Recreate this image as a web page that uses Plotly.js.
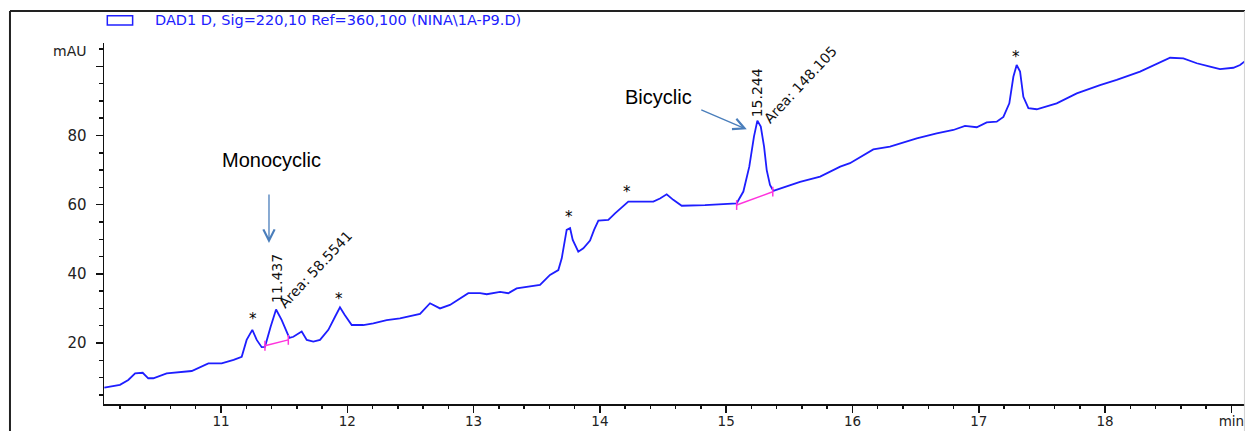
<!DOCTYPE html>
<html>
<head>
<meta charset="utf-8">
<script src="https://cdn.plot.ly/plotly-3.0.1.min.js"></script>
<style>
  html, body { margin: 0; padding: 0; background: #ffffff; }
  #chart { width: 1246px; height: 431px; }
</style>
</head>
<body>
<div id="chart"></div>
<script>
// ---- data (retention time in min, signal in mAU) ----
const timeMin = [10.076, 10.20, 10.266, 10.32, 10.38, 10.424, 10.464, 10.57, 10.768, 10.834, 10.90, 11.005, 11.10, 11.164, 11.203, 11.248, 11.283, 11.322, 11.348, 11.393, 11.436, 11.48, 11.541, 11.573, 11.639, 11.679, 11.731, 11.784, 11.85, 11.903, 11.942, 11.98, 12.035, 12.127, 12.206, 12.312, 12.417, 12.576, 12.655, 12.734, 12.813, 12.958, 13.051, 13.104, 13.21, 13.275, 13.341, 13.526, 13.605, 13.671, 13.698, 13.737, 13.764, 13.785, 13.829, 13.869, 13.922, 13.954, 13.988, 14.067, 14.12, 14.225, 14.423, 14.476, 14.529, 14.581, 14.648, 14.832, 14.951, 15.083, 15.136, 15.183, 15.22, 15.247, 15.274, 15.30, 15.321, 15.347, 15.373, 15.585, 15.744, 15.903, 15.98, 16.165, 16.297, 16.509, 16.667, 16.799, 16.891, 16.984, 17.063, 17.142, 17.195, 17.242, 17.274, 17.30, 17.327, 17.353, 17.393, 17.459, 17.617, 17.776, 17.96, 18.092, 18.277, 18.356, 18.515, 18.62, 18.726, 18.831, 18.91, 19.016, 19.069, 19.108];
const signalMAU = [7.1, 7.9, 9.3, 11.2, 11.4, 9.8, 9.8, 11.2, 11.9, 13.0, 14.1, 14.1, 15.1, 16.0, 20.9, 23.8, 20.9, 18.8, 18.9, 24.7, 29.7, 26.7, 21.5, 21.8, 23.3, 20.9, 20.4, 20.9, 23.8, 27.6, 30.3, 28.1, 25.2, 25.2, 25.7, 26.6, 27.1, 28.4, 31.5, 30.0, 31.0, 34.4, 34.4, 34.1, 34.8, 34.4, 35.8, 36.8, 39.7, 41.1, 44.5, 52.7, 53.2, 49.8, 46.4, 47.4, 49.6, 52.7, 55.4, 55.6, 57.5, 60.9, 60.9, 61.8, 63.0, 61.4, 59.7, 59.9, 60.2, 60.4, 63.8, 71.0, 79.7, 84.3, 82.6, 76.8, 70.0, 65.7, 64.0, 66.6, 68.1, 71.0, 72.0, 76.0, 76.8, 79.2, 80.6, 81.6, 82.8, 82.4, 83.8, 84.0, 85.4, 89.3, 97.0, 100.4, 98.5, 91.2, 87.9, 87.6, 89.3, 92.2, 94.6, 96.1, 98.5, 99.9, 102.5, 102.3, 100.9, 99.9, 99.2, 99.6, 100.4, 101.5];

// integration baselines
const base1Time = [11.348, 11.533];
const base1MAU = [19.2, 20.9];
const base2Time = [15.083, 15.369];
const base2MAU = [59.9, 63.75];

// peak labels
const peakRT = ["11.437", "15.244"];
const peakRTx = [11.437, 15.244];
const peakRTy = [38.6, 92.2];
const peakArea = ["Area: 58.5541", "Area: 148.105"];
const peakAreaX = [11.751, 15.585];
const peakAreaY = [41.3, 94.6];

// asterisk marks
const starX = [11.251, 11.937, 13.753, 14.215, 17.295];
const starY = [27.9, 33.7, 57.2, 64.5, 103.6];

// axis ticks
const xTickVals = [11, 12, 13, 14, 15, 16, 17, 18, 19];
const xTickText = ["11", "12", "13", "14", "15", "16", "17", "18", "min"];
const yTickVals = [20, 40, 60, 80, 100];
const yTickText = ["20", "40", "60", "80", ""];

const legendText = "DAD1 D, Sig=220,10 Ref=360,100 (NINA\\1A-P9.D)";

// ---- plot ----
const chemFont = "DejaVu Sans, Verdana, sans-serif";
const blue = "#1e1eff";
const arrowBlue = "#4a7ebb";

const traces = [
  { x: timeMin, y: signalMAU, type: "scatter", mode: "lines",
    line: { color: blue, width: 1.8 }, hoverinfo: "skip", showlegend: false },
  { x: base1Time, y: base1MAU, type: "scatter", mode: "lines+markers",
    line: { color: "#ff33dd", width: 1.5 },
    marker: { symbol: "line-ns-open", size: 7, line: { color: "#000", width: 1.5 } },
    hoverinfo: "skip", showlegend: false },
  { x: base2Time, y: base2MAU, type: "scatter", mode: "lines+markers",
    line: { color: "#ff33dd", width: 1.5 },
    marker: { symbol: "line-ns-open", size: 7, line: { color: "#000", width: 1.5 } },
    hoverinfo: "skip", showlegend: false }
];

const annotations = [];
peakRT.forEach((t, i) => annotations.push({
  x: peakRTx[i], y: peakRTy[i], xref: "x", yref: "y", text: t, showarrow: false,
  textangle: -90, xanchor: "center", yanchor: "middle",
  font: { family: chemFont, size: 14, color: "#111" }
}));
peakArea.forEach((t, i) => annotations.push({
  x: peakAreaX[i], y: peakAreaY[i], xref: "x", yref: "y", text: t, showarrow: false,
  textangle: -47, xanchor: "center", yanchor: "middle",
  font: { family: chemFont, size: 14, color: "#111" }
}));
starX.forEach((sx, i) => annotations.push({
  x: sx, y: starY[i], xref: "x", yref: "y", text: "*", showarrow: false,
  xanchor: "center", yanchor: "middle", yshift: -3,
  font: { family: chemFont, size: 15, color: "#000" }
}));
// labels and arrows
annotations.push({
  x: 11.40, y: 73.0, xref: "x", yref: "y", text: "Monocyclic", showarrow: false,
  xanchor: "center", yanchor: "middle",
  font: { family: "Liberation Sans, Arial, sans-serif", size: 20, color: "#000" }
});
annotations.push({
  x: 14.466, y: 91.1, xref: "x", yref: "y", text: "Bicyclic", showarrow: false,
  xanchor: "center", yanchor: "middle",
  font: { family: "Liberation Sans, Arial, sans-serif", size: 20, color: "#000" }
});
annotations.push({
  x: 11.380, y: 48.9, xref: "x", yref: "y", text: "", showarrow: true,
  ax: 0, ay: -50, arrowhead: 5, arrowsize: 1.7, arrowwidth: 1.3, arrowcolor: arrowBlue, standoff: 0
});
annotations.push({
  x: 15.163, y: 81.8, xref: "x", yref: "y", text: "", showarrow: true,
  ax: -47, ay: -20, arrowhead: 5, arrowsize: 1.7, arrowwidth: 1.3, arrowcolor: arrowBlue, standoff: 0
});
// legend text and y unit
annotations.push({
  x: 0.0432, y: 1.0629, xref: "paper", yref: "paper", text: legendText, showarrow: false,
  xanchor: "left", yanchor: "middle",
  font: { family: chemFont, size: 14.5, color: "#2020ff" }
});
annotations.push({
  x: -0.0138, y: 0.9778, xref: "paper", yref: "paper", text: "mAU", showarrow: false,
  xanchor: "right", yanchor: "middle",
  font: { family: chemFont, size: 14, color: "#222" }
});

const shapes = [
  // outer frame (top and left dark, right light)
  { type: "line", xref: "paper", yref: "paper", x0: -0.0824, x1: 1.0, y0: 1.0886, y1: 1.0886,
    line: { color: "#222", width: 2 } },
  { type: "line", xref: "paper", yref: "paper", x0: -0.0824, x1: -0.0824, y0: 1.0886, y1: -0.08,
    line: { color: "#222", width: 2 } },
  { type: "line", xref: "paper", yref: "paper", x0: 0.9995, x1: 0.9995, y0: 1.0886, y1: -0.08,
    line: { color: "#d0d0d0", width: 1 } },
  // legend symbol
  { type: "rect", xref: "paper", yref: "paper", x0: 0.0029, x1: 0.0251, y0: 1.0499, y1: 1.0756,
    line: { color: "#2020ff", width: 1.5 }, fillcolor: "rgba(0,0,0,0)" }
];

const layout = {
  width: 1246, height: 431,
  margin: { l: 104, r: 1, t: 43, b: 27, pad: 0 },
  paper_bgcolor: "#ffffff", plot_bgcolor: "#ffffff",
  showlegend: false,
  xaxis: {
    range: [10.0736, 19.108], showgrid: false, zeroline: false,
    showline: true, linecolor: "#111", linewidth: 1.5,
    ticks: "outside", ticklen: 7, tickwidth: 1.5, tickcolor: "#111",
    tickmode: "array", tickvals: xTickVals, ticktext: xTickText,
    tickfont: { family: chemFont, size: 13.5, color: "#222" },
    ticklabelstandoff: -3,
    minor: { dtick: 0.2, tick0: 0, ticks: "outside", ticklen: 3.5, tickwidth: 1.5, tickcolor: "#111", showgrid: false }
  },
  yaxis: {
    range: [2.36, 106.76], showgrid: false, zeroline: false,
    showline: true, linecolor: "#111", linewidth: 1.5,
    ticks: "outside", ticklen: 7, tickwidth: 1.5, tickcolor: "#111",
    tickmode: "array", tickvals: yTickVals, ticktext: yTickText,
    tickfont: { family: chemFont, size: 15, color: "#222" },
    ticklabelstandoff: 6,
    minor: { dtick: 5, tick0: 0, ticks: "outside", ticklen: 3.5, tickwidth: 1.5, tickcolor: "#111", showgrid: false }
  },
  annotations: annotations,
  shapes: shapes
};

Plotly.newPlot("chart", traces, layout, { staticPlot: true, displayModeBar: false });
</script>
</body>
</html>
